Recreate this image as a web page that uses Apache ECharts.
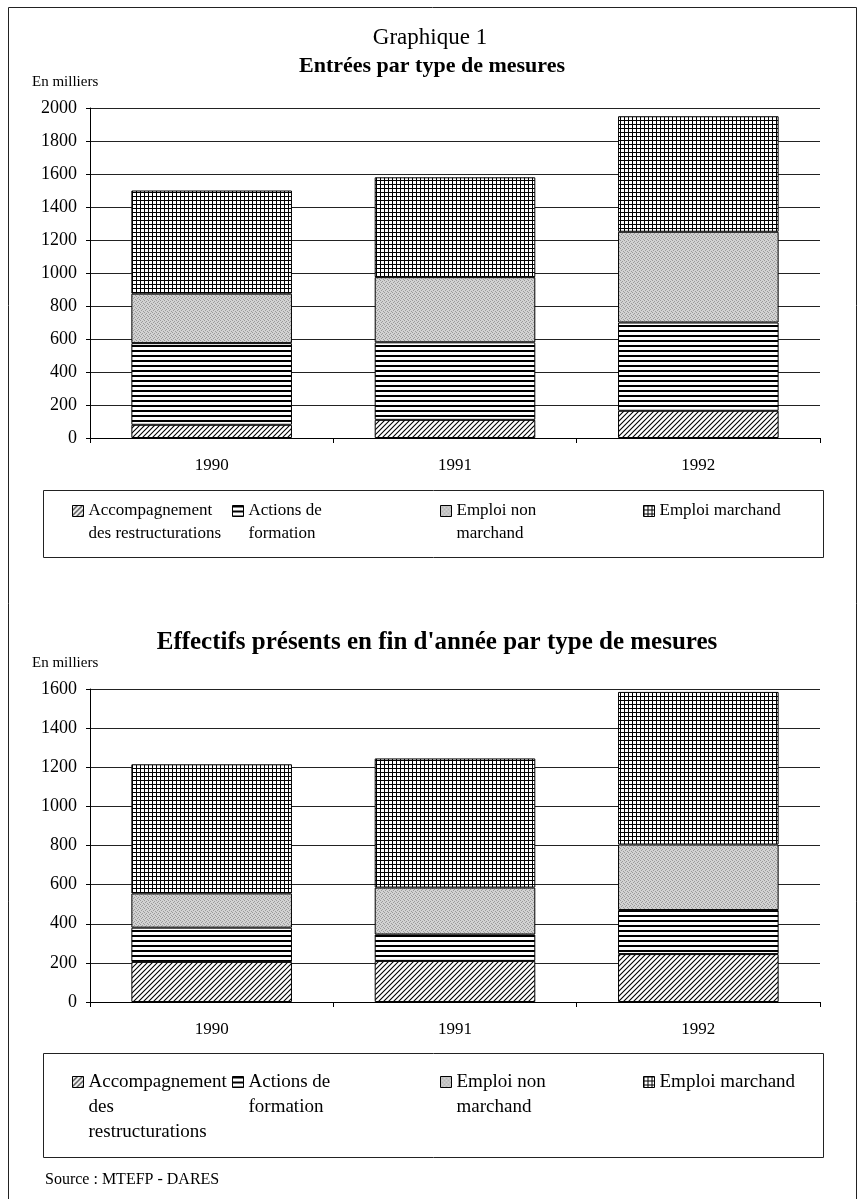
<!DOCTYPE html>
<html>
<head>
<meta charset="utf-8">
<script src="https://cdn.jsdelivr.net/npm/echarts/dist/echarts.min.js"></script>
<style>
  html, body { margin: 0; padding: 0; background: #fff; }
  #chart { width: 858px; height: 1199px; }
</style>
</head>
<body>
<div id="chart"></div>
<script>
// données (en milliers)
const years = ['1990', '1991', '1992']
const seriesNames = ['Accompagnement des restructurations', 'Actions de formation', 'Emploi non marchand', 'Emploi marchand']

// Entrées par type de mesures
const entreesAccomp = [80, 110, 165]
const entreesFormation = [495, 470, 535]
const entreesNonMarchand = [300, 395, 550]
const entreesMarchand = [625, 605, 700]

// Effectifs présents en fin d'année
const effectifsAccomp = [205, 210, 245]
const effectifsFormation = [175, 135, 225]
const effectifsNonMarchand = [175, 240, 335]
const effectifsMarchand = [660, 660, 780]

const ticksTop = { min: 0, max: 2000, interval: 200 }
const ticksBottom = { min: 0, max: 1600, interval: 200 }

const FONT = '"Liberation Serif", "DejaVu Serif", serif'

// motifs de remplissage
function makeTile (w, h, draw) {
  const c = document.createElement('canvas')
  c.width = w
  c.height = h
  const ctx = c.getContext('2d')
  ctx.fillStyle = '#fff'
  ctx.fillRect(0, 0, w, h)
  draw(ctx)
  return { image: c, repeat: 'repeat' }
}

const hatchFill = makeTile(5, 5, ctx => {
  ctx.strokeStyle = '#000'
  ctx.lineWidth = 1.1
  ctx.beginPath()
  ctx.moveTo(-1, 6); ctx.lineTo(6, -1)
  ctx.moveTo(-2, 2); ctx.lineTo(2, -2)
  ctx.moveTo(3, 7); ctx.lineTo(7, 3)
  ctx.stroke()
})
const stripeFill = makeTile(4, 5, ctx => {
  ctx.fillStyle = '#000'
  ctx.fillRect(0, 0, 4, 2)
})
const stippleFill = makeTile(4, 4, ctx => {
  ctx.fillStyle = '#d2d2d2'
  ctx.fillRect(0, 0, 4, 4)
  ctx.fillStyle = '#9a9a9a'
  ctx.fillRect(0, 0, 1, 1)
  ctx.fillRect(2, 1, 1, 1)
  ctx.fillRect(1, 2, 1, 1)
  ctx.fillRect(3, 3, 1, 1)
})
const gridFill = makeTile(4, 4, ctx => {
  ctx.fillStyle = '#000'
  ctx.fillRect(0, 0, 4, 1)
  ctx.fillRect(0, 0, 1, 4)
})
const fills = [hatchFill, stripeFill, stippleFill, gridFill]

function barSeries (idx, datasets) {
  return datasets.map((data, i) => ({
    name: seriesNames[i],
    type: 'bar',
    stack: 'total' + idx,
    xAxisIndex: idx,
    yAxisIndex: idx,
    barCategoryGap: '34%',
    data: data,
    itemStyle: { color: fills[i], borderColor: '#000', borderWidth: 1 },
    emphasis: { disabled: true }
  }))
}

function xAxisCfg (idx, size) {
  return {
    type: 'category',
    gridIndex: idx,
    data: years,
    axisLine: { lineStyle: { color: '#000', width: 1 } },
    axisTick: { show: true, length: 5, lineStyle: { color: '#000' } },
    axisLabel: { color: '#000', fontFamily: FONT, fontSize: size, margin: 19 }
  }
}

function yAxisCfg (idx, t, size) {
  return {
    type: 'value',
    gridIndex: idx,
    min: t.min,
    max: t.max,
    interval: t.interval,
    axisLine: { show: true, lineStyle: { color: '#000', width: 1 } },
    axisTick: { show: true, length: 4, lineStyle: { color: '#000' } },
    axisLabel: { color: '#000', fontFamily: FONT, fontSize: size, margin: 13, formatter: v => String(v) },
    splitLine: { lineStyle: { color: '#222', width: 1 } }
  }
}

// légendes : une composante par entrée pour placer chaque colonne
const legendLabels = [
  ['Accompagnement\ndes restructurations', 'Actions de\nformation', 'Emploi non\nmarchand', 'Emploi marchand'],
  ['Accompagnement\ndes\nrestructurations', 'Actions de\nformation', 'Emploi non\nmarchand', 'Emploi marchand']
]
const legendX = [72, 232, 440, 643]

// le texte est centré sur le symbole : on ajoute des lignes vides en tête
// pour que le symbole tombe sur la première ligne
function legends (idx, firstLineY, size, lh) {
  return seriesNames.map((name, i) => {
    const text = legendLabels[idx][i]
    const n = text.split('\n').length
    const padded = '\n'.repeat(n - 1) + text
    const m = 2 * n - 1
    return {
      left: legendX[i],
      top: firstLineY - m * lh / 2,
      padding: 0,
      orient: 'vertical',
      selectedMode: false,
      icon: 'rect',
      itemWidth: 11,
      itemHeight: 11,
      itemGap: 0,
      data: [name],
      formatter: () => padded,
      itemStyle: { borderColor: '#000', borderWidth: 1 },
      textStyle: {
        fontFamily: FONT,
        fontSize: size,
        lineHeight: lh,
        color: '#000'
      }
    }
  })
}

const chart = echarts.init(document.getElementById('chart'), null, { renderer: 'canvas' })

chart.setOption({
  animation: false,
  backgroundColor: '#fff',
  grid: [
    { left: 90, top: 108, width: 730, height: 330 },
    { left: 90, top: 689, width: 730, height: 313 }
  ],
  xAxis: [xAxisCfg(0, 17), xAxisCfg(1, 17)],
  yAxis: [yAxisCfg(0, ticksTop, 18), yAxisCfg(1, ticksBottom, 18)],
  legend: legends(0, 511, 17, 23).concat(legends(1, 1082, 19, 25)),
  series: barSeries(0, [entreesAccomp, entreesFormation, entreesNonMarchand, entreesMarchand])
    .concat(barSeries(1, [effectifsAccomp, effectifsFormation, effectifsNonMarchand, effectifsMarchand])),
  graphic: [
    // cadre général
    { type: 'rect', shape: { x: 8.5, y: 7.5, width: 848, height: 1210 }, style: { fill: null, stroke: '#222', lineWidth: 1 }, silent: true, z: -1 },
    // cadres des légendes
    { type: 'rect', shape: { x: 43.5, y: 490.5, width: 780, height: 67 }, style: { fill: null, stroke: '#222', lineWidth: 1 }, silent: true },
    { type: 'rect', shape: { x: 43.5, y: 1053.5, width: 780, height: 104 }, style: { fill: null, stroke: '#222', lineWidth: 1 }, silent: true },
    { type: 'text', x: 430, y: 38, style: { text: 'Graphique 1', font: '23px ' + FONT, fill: '#000', textAlign: 'center', textVerticalAlign: 'middle' } },
    { type: 'text', x: 432, y: 66, style: { text: 'Entrées par type de mesures', font: 'bold 22px ' + FONT, fill: '#000', textAlign: 'center', textVerticalAlign: 'middle' } },
    { type: 'text', x: 32, y: 82, style: { text: 'En milliers', font: '15px ' + FONT, fill: '#000', textVerticalAlign: 'middle' } },
    { type: 'text', x: 437, y: 643, style: { text: "Effectifs présents en fin d'année par type de mesures", font: 'bold 25px ' + FONT, fill: '#000', textAlign: 'center', textVerticalAlign: 'middle' } },
    { type: 'text', x: 32, y: 663, style: { text: 'En milliers', font: '15px ' + FONT, fill: '#000', textVerticalAlign: 'middle' } },
    { type: 'text', x: 45, y: 1180, style: { text: 'Source : MTEFP - DARES', font: '16px ' + FONT, fill: '#000', textVerticalAlign: 'middle' } }
  ]
})
</script>
</body>
</html>
